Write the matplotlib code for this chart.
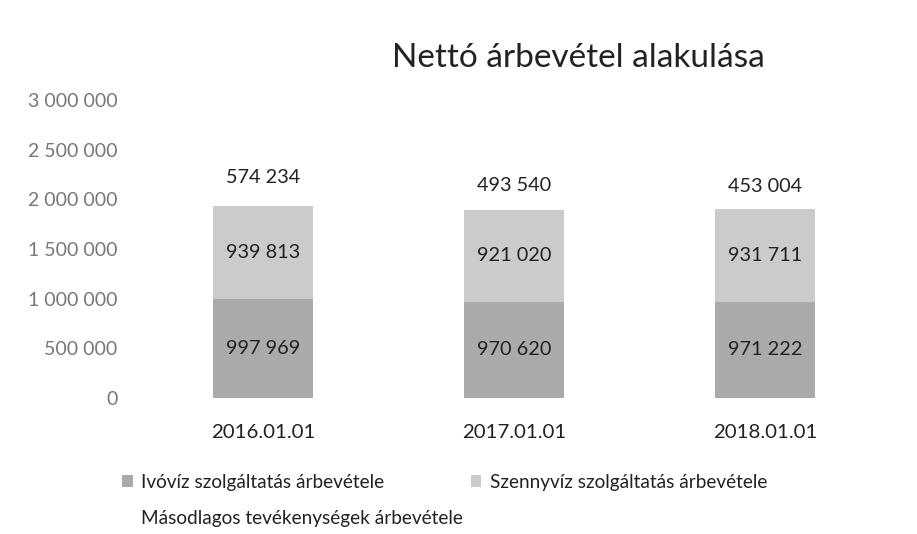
import matplotlib.pyplot as plt
import matplotlib as mpl
import numpy as np

mpl.rcParams['font.family'] = ['Lato', 'DejaVu Sans']

dates = ['2016.01.01', '2017.01.01', '2018.01.01']
ivoviz = [997969, 970620, 971222]
szennyviz = [939813, 921020, 931711]
masodlagos = [574234, 493540, 453004]

series_names = ['Ivóvíz szolgáltatás árbevétele',
                'Szennyvíz szolgáltatás árbevétele',
                'Másodlagos tevékenységek árbevétele']
colors = ['#aaaaaa', '#cbcbcb', '#ffffff']

def fmt(v):
    return '{:,}'.format(int(v)).replace(',', ' ')

fig = plt.figure(figsize=(9.17, 5.34), dpi=100)
ax = fig.add_axes([0.150, 0.2547, 0.821, 0.558])

x = np.arange(len(dates))
bottom = np.zeros(len(dates))
bars = []
for vals, col, name in zip([ivoviz, szennyviz, masodlagos], colors, series_names):
    b = ax.bar(x, vals, 0.4, bottom=bottom, color=col, label=name, linewidth=0)
    bars.append(b)
    for xi, bo, v in zip(x, bottom, vals):
        ax.text(xi, bo + v / 2, fmt(v), ha='center', va='center', fontsize=14.3, color='#222222')
    bottom = bottom + np.array(vals)

ax.set_xlim(-0.5, 2.5)
ax.set_ylim(0, 3000000)
ax.set_yticks(np.arange(0, 3000001, 500000))
ax.set_yticklabels([fmt(v) for v in np.arange(0, 3000001, 500000)], fontsize=14, color='#777777')
ax.set_xticks(x)
ax.set_xticklabels(dates, fontsize=14.7, color='#222222')
ax.tick_params(axis='both', length=0)
ax.tick_params(axis='x', pad=19)
ax.tick_params(axis='y', pad=14.5)
for s in ax.spines.values():
    s.set_visible(False)

fig.text(0.631, 0.892, 'Nettó árbevétel alakulása', ha='center', va='center', fontsize=24, color='#222222')

# row-major order: col 1 = Ivóvíz, Másodlagos ; col 2 = Szennyvíz
order = [0, 2, 1]
leg = fig.legend(handles=[bars[i] for i in order], labels=[series_names[i] for i in order],
                 ncol=2, loc='upper left', bbox_to_anchor=(0.125, 0.127), frameon=False,
                 fontsize=13.7, handlelength=0.55, handleheight=0.55, handletextpad=0.45,
                 columnspacing=0.4, labelspacing=1.0, borderaxespad=0)
for t in leg.get_texts():
    t.set_color('#222222')

plt.savefig('out.png', dpi=100)
